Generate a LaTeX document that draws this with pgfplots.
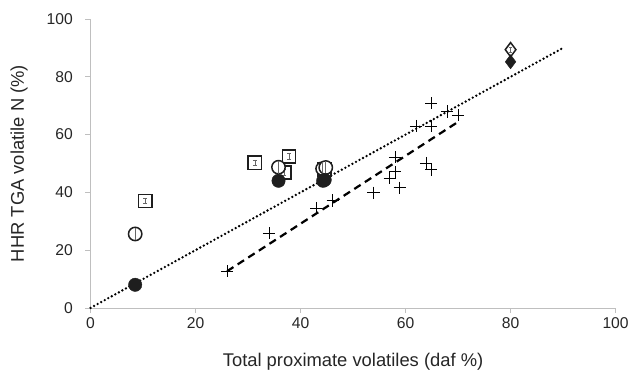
\documentclass[border={7bp 0bp 0bp 10bp}]{standalone}
\usepackage{pgfplots}
\pgfplotsset{compat=1.18}
\usepackage{fontspec}
\setmainfont{Liberation Sans}
\definecolor{axgray}{RGB}{191,191,191}
\definecolor{mk}{RGB}{30,30,30}
% an I bar (drawn inside squares and diamond)
\pgfdeclareplotmark{Ibar}{%
  \pgfpathmoveto{\pgfpoint{0pt}{-\pgfplotmarksize}}\pgfpathlineto{\pgfpoint{0pt}{\pgfplotmarksize}}%
  \pgfpathmoveto{\pgfpoint{-0.7\pgfplotmarksize}{-\pgfplotmarksize}}\pgfpathlineto{\pgfpoint{0.7\pgfplotmarksize}{-\pgfplotmarksize}}%
  \pgfpathmoveto{\pgfpoint{-0.7\pgfplotmarksize}{\pgfplotmarksize}}\pgfpathlineto{\pgfpoint{0.7\pgfplotmarksize}{\pgfplotmarksize}}%
  \pgfusepathqstroke
}
% a plain vertical bar (drawn inside circles)
\pgfdeclareplotmark{vbar}{%
  \pgfpathmoveto{\pgfpoint{0pt}{-\pgfplotmarksize}}\pgfpathlineto{\pgfpoint{0pt}{\pgfplotmarksize}}%
  \pgfusepathqstroke
}
\begin{document}
\begin{tikzpicture}
\begin{axis}[
  scale only axis,
  width=518bp, height=285bp,
  xmin=0, xmax=100, ymin=0, ymax=100,
  xtick={0,20,...,100}, ytick={0,20,...,100},
  axis x line*=bottom, axis y line*=left,
  axis line style={axgray, line width=0.8pt, -},
  tick style={axgray, line width=0.8pt},
  tick align=outside,
  major tick length=5bp,
  /pgf/number format/assume math mode=true,
  tick label style={font=\fontsize{15.5}{17}\selectfont, text=black!85},
  yticklabel style={xshift=-9bp},
  xticklabel style={yshift=-1bp},
  label style={font=\fontsize{18.2}{20}\selectfont, text=black!85},
  xlabel={Total proximate volatiles (daf \%)},
  ylabel={HHR TGA volatile N (\%)},
  xlabel style={yshift=-17bp},
  ylabel style={yshift=12bp},
  clip=false,
]
% 1:1 dotted line
\addplot[black, line width=2.6pt, dash pattern=on 0pt off 4pt, line cap=round] coordinates {(0,0) (90,90)};
% dashed fit
\addplot[black, line width=2.2pt, dash pattern=on 7.5pt off 5pt] coordinates {(26,12.7) (70,64.4)};
% crosses
\addplot[only marks, mark=+, mark size=6bp, mark options={black, line width=0.7pt}] coordinates {
(26.0,12.7) (34.0,25.9) (43.0,34.6) (46.1,37.2) (53.9,39.9) (58.9,41.6)
(57.0,44.9) (58.0,47.1) (58.0,52.2) (63.9,50.2) (64.9,47.8) (62.0,63.0)
(64.9,63.0) (64.9,70.9) (67.9,68.0) (70.0,66.8)};
% open squares
\addplot[only marks, mark=square*, mark size=6.5bp,
  mark options={draw=mk, fill=white, line width=1.6pt}]
  coordinates {(10.4,37.0) (31.3,50.2) (36.9,46.9) (37.8,52.4) (44.6,48.0)};
\addplot[only marks, mark=Ibar, mark size=2.7bp,
  mark options={draw=black!60, line width=0.6pt}]
  coordinates {(10.4,37.0) (31.3,50.2) (36.9,46.9) (37.8,52.4) (44.6,48.0)};
% open circles
\addplot[only marks, mark=*, mark size=6.6bp,
  mark options={draw=mk, fill=white, line width=1.5pt}]
  coordinates {(8.5,25.6) (35.8,48.7) (44.2,48.2) (44.8,48.6)};
\addplot[only marks, mark=vbar, mark size=6.2bp,
  mark options={draw=black!60, line width=0.8pt}]
  coordinates {(8.5,25.6) (35.8,48.7) (44.2,48.2) (44.8,48.6)};
% filled circles
\addplot[only marks, mark=*, mark size=6.6bp, mark options={draw=mk, fill=mk}] coordinates {
(8.5,8.0) (35.8,44.0) (44.3,44.0) (44.6,44.3)};
% open diamond
\addplot[only marks, mark=diamond*, mark size=7bp,
  mark options={draw=mk, fill=white, line width=1.5pt}]
  coordinates {(80,89.4)};
\addplot[only marks, mark=Ibar, mark size=2.6bp,
  mark options={draw=black!60, line width=0.6pt}]
  coordinates {(80,89.4)};
% filled diamond
\addplot[only marks, mark=diamond*, mark size=7bp, mark options={draw=mk, fill=mk}] coordinates {(80,85.2)};
\end{axis}
\end{tikzpicture}
\end{document}
